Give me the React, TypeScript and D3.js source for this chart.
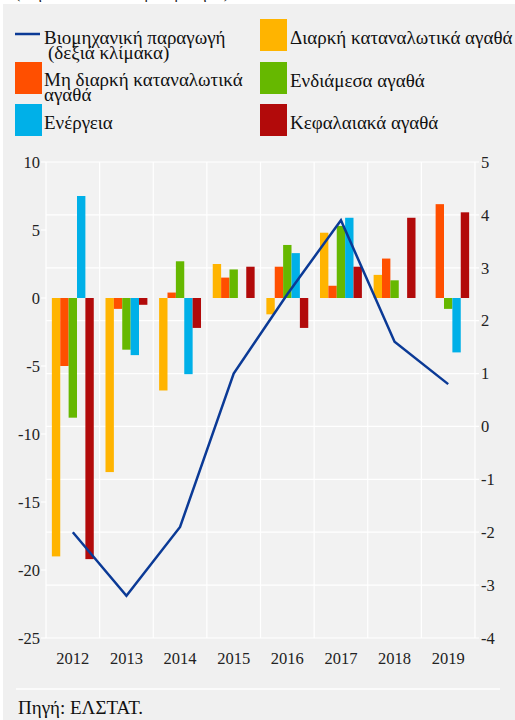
import React from "react";
import * as d3 from "d3";

const years = ["2012", "2013", "2014", "2015", "2016", "2017", "2018", "2019"];
const industrialProduction = [-2.0, -3.2, -1.9, 1.0, 2.5, 3.9, 1.6, 0.8];
const durable = [-19.0, -12.8, -6.8, 2.5, -1.2, 4.8, 1.7, null];
const nonDurable = [-5.0, -0.8, 0.4, 1.5, 2.3, 0.9, 2.9, 6.9];
const intermediate = [-8.8, -3.8, 2.7, 2.1, 3.9, 5.3, 1.3, -0.8];
const energy = [7.5, -4.2, -5.6, null, 3.3, 5.9, null, -4.0];
const capital = [-19.2, -0.5, -2.2, 2.3, -2.2, 2.3, 5.9, 6.3];
const leftTicks = [10, 5, 0, -5, -10, -15, -20, -25];
const rightTicks = [5, 4, 3, 2, 1, 0, -1, -2, -3, -4];

const series = [
  { name: "Διαρκή καταναλωτικά αγαθά", values: durable, color: "#ffb400" },
  { name: "Μη διαρκή καταναλωτικά αγαθά", values: nonDurable, color: "#ff4f00" },
  { name: "Ενδιάμεσα αγαθά", values: intermediate, color: "#66b800" },
  { name: "Ενέργεια", values: energy, color: "#00b0e8" },
  { name: "Κεφαλαιακά αγαθά", values: capital, color: "#b20a0a" },
];

const FONT = '"Liberation Serif", "Times New Roman", serif';
const LINE_COLOR = "#0b3a96";

const App: React.FC = () => {
  const W = 515;
  const H = 720;
  const plot = { left: 46, right: 475, top: 162, bottom: 638 };

  const x = d3.scaleBand<string>().domain(years).range([plot.left, plot.right]);
  const inner = d3
    .scaleBand<number>()
    .domain(d3.range(series.length))
    .range([0, x.bandwidth()])
    .paddingOuter(0.7)
    .paddingInner(0);
  const yL = d3.scaleLinear().domain([-25, 10]).range([plot.bottom, plot.top]);
  const yR = d3.scaleLinear().domain([-4, 5]).range([plot.bottom, plot.top]);

  const line = d3
    .line<number>()
    .x((_, i) => x(years[i])! + x.bandwidth() / 2)
    .y((d) => yR(d));

  return (
    <svg
      width={W}
      height={H}
      style={{ position: "absolute", left: 0, top: 0, background: "#fff", fontFamily: FONT }}
    >
      {/* clipped subtitle above the panel */}
      <text x={15} y={-2} fontSize={16} fill="#222">
        (ετήσια ποσοστιαία μεταβολή %)
      </text>
      <rect x={3} y={4} width={W - 3} height={H - 4} fill="#f0f0f0" />

      {/* legend */}
      <g fontSize={19} fill="#111">
        <line x1={15} x2={40} y1={34} y2={34} stroke={LINE_COLOR} strokeWidth={2.5} />
        <text x={44} y={43.5}>Βιομηχανική παραγωγή</text>
        <text x={48} y={59}>(δεξιά κλίμακα)</text>
        <rect x={15} y={62} width={27} height={32} fill={series[1].color} />
        <text x={44} y={86}>Μη διαρκή καταναλωτικά</text>
        <text x={44} y={100.5}>αγαθά</text>
        <rect x={15} y={104} width={27} height={32} fill={series[3].color} />
        <text x={44} y={128.5}>{series[3].name}</text>
        <rect x={260} y={19} width={27} height={32} fill={series[0].color} />
        <text x={290} y={44}>{series[0].name}</text>
        <rect x={260} y={62} width={27} height={32} fill={series[2].color} />
        <text x={290} y={86.5}>{series[2].name}</text>
        <rect x={260} y={104} width={27} height={32} fill={series[4].color} />
        <text x={290} y={128.5}>{series[4].name}</text>
      </g>

      {/* plot area */}
      <rect
        x={plot.left}
        y={plot.top}
        width={plot.right - plot.left}
        height={plot.bottom - plot.top}
        fill="#f2f2f2"
      />
      <g stroke="#fff" strokeWidth={1.2}>
        {rightTicks.map((t) => (
          <line key={t} x1={plot.left} x2={plot.right + 4} y1={yR(t)} y2={yR(t)} />
        ))}
        {leftTicks.map((t) => (
          <line key={t} x1={plot.left - 5} x2={plot.left} y1={yL(t)} y2={yL(t)} />
        ))}
        {d3.range(years.length + 1).map((i) => {
          const xx = plot.left + i * x.step();
          return <line key={i} x1={xx} x2={xx} y1={plot.top} y2={plot.bottom} />;
        })}
      </g>

      {/* bars */}
      {years.map((yr, i) => (
        <g key={yr} transform={`translate(${x(yr)},0)`}>
          {series.map((s, j) =>
            s.values[i] == null ? null : (
              <rect
                key={j}
                x={inner(j)}
                width={inner.bandwidth()}
                y={yL(Math.max(0, s.values[i] as number))}
                height={Math.abs(yL(s.values[i] as number) - yL(0))}
                fill={s.color}
              />
            )
          )}
        </g>
      ))}

      <path
        d={line(industrialProduction)!}
        fill="none"
        stroke={LINE_COLOR}
        strokeWidth={2.5}
      />

      {/* axes labels */}
      <g fontSize={16.5} fill="#222">
        {leftTicks.map((t) => (
          <text key={t} x={40} y={yL(t)} dy="0.35em" textAnchor="end">
            {t}
          </text>
        ))}
        {rightTicks.map((t) => (
          <text key={t} x={481} y={yR(t)} dy="0.35em">
            {t}
          </text>
        ))}
        {years.map((yr) => (
          <text
            key={yr}
            x={x(yr)! + x.bandwidth() / 2}
            y={658}
            dy="0.35em"
            textAnchor="middle"
          >
            {yr}
          </text>
        ))}
      </g>

      <line x1={16} x2={500} y1={689} y2={689} stroke="#fff" strokeWidth={1.5} />
      <text x={18} y={714} fontSize={19} fill="#111">
        Πηγή: ΕΛΣΤΑΤ.
      </text>
    </svg>
  );
};

export default App;
